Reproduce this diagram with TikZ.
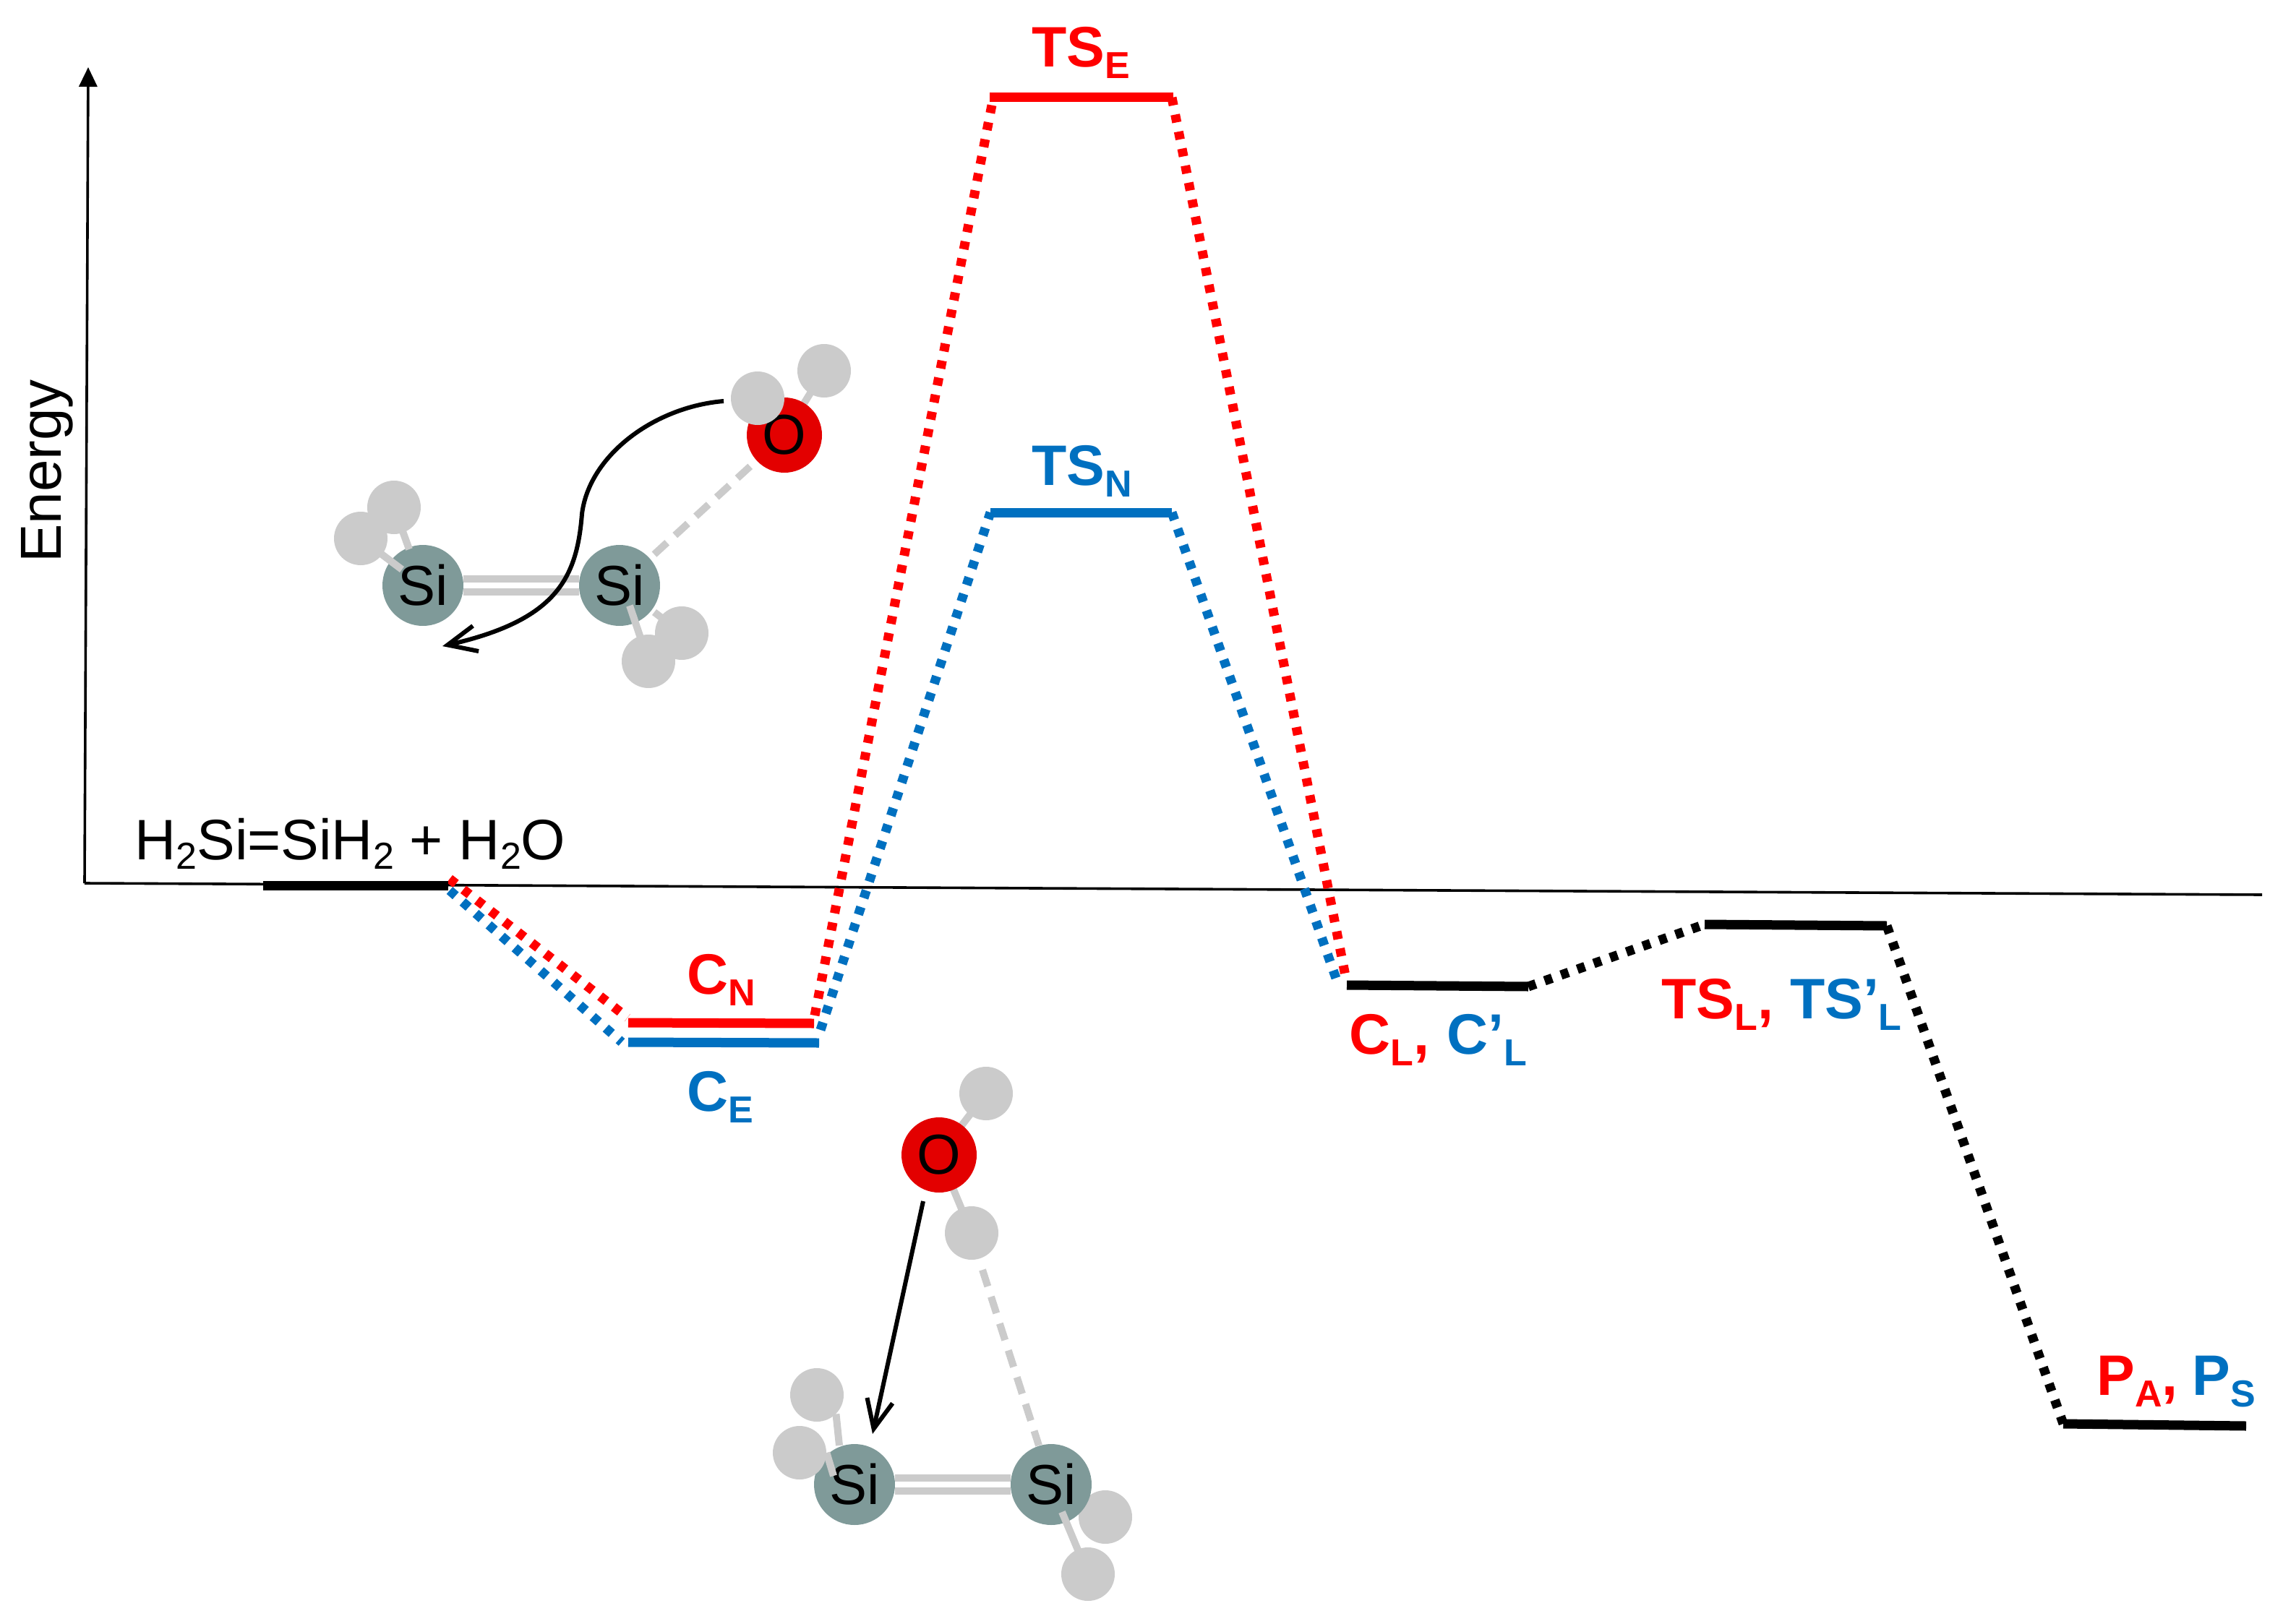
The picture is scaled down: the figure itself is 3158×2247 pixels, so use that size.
\documentclass[tikz,border=0pt]{standalone}
\usepackage{fontspec}
\setmainfont{Liberation Sans}
\usetikzlibrary{arrows.meta}
\definecolor{cred}{HTML}{FF0000}
\definecolor{cblue}{HTML}{0070C0}
\definecolor{hgray}{HTML}{CBCBCB}
\definecolor{sigreen}{HTML}{7F9A99}
\definecolor{ored}{HTML}{E30000}
\newcommand{\lab}[2]{{\fontsize{39.5}{39.5}\selectfont\bfseries #1}\raisebox{-8pt}{\fontsize{26}{26}\selectfont\bfseries #2}}
\newcommand{\lcomma}{{\fontsize{39.5}{39.5}\selectfont\bfseries,}}
\newcommand{\rsub}[1]{\raisebox{-6.5pt}{\fontsize{26}{26}\selectfont #1}}
\tikzset{
  atomtext/.style={font=\fontsize{39}{39}\selectfont,text=black,inner sep=0pt,circle},
  hatom/.style={circle,fill=hgray,minimum size=37pt,inner sep=0pt},
  siatom/.style={atomtext,fill=sigreen,minimum size=56pt},
  oatom/.style={atomtext,fill=ored,minimum size=52pt},
  bondline/.style={hgray,line width=5pt},
  hbond/.style={hgray,line width=5pt,dash pattern=on 12pt off 7.5pt},
  level/.style={line width=6.5pt,line cap=butt},
  trans/.style={line width=6.5pt,dash pattern=on 5.5pt off 6.5pt},
  axisline/.style={black,line width=1.8pt},
  curvearrow/.style={black,line width=3pt,-{Straight Barb[length=20pt,width=18pt,line width=3pt]}},
  tag/.style={anchor=base west,inner sep=0pt},
}
\begin{document}
\begin{tikzpicture}[x=.5pt,y=-.5pt]
\useasboundingbox (0,0) rectangle (3158,2247);
% axes
\coordinate (origin) at (117,1222);
\coordinate (ytop) at (122,93);
\coordinate (xend) at (3129,1238);
\draw[axisline,-{Triangle[length=13.5pt,width=12.5pt]}] (origin) -- (ytop);
\draw[axisline] (origin) -- (xend);
\node[rotate=90,anchor=base,inner sep=0pt,font=\fontsize{40}{40}\selectfont] (energy) at (84,652) {Energy};
% level ends
\coordinate (Ra) at (364,1225); \coordinate (Rb) at (620,1225);
\coordinate (CNa) at (869,1415); \coordinate (CNb) at (1126,1416);
\coordinate (CEa) at (869,1442); \coordinate (CEb) at (1133,1443);
\coordinate (TEa) at (1369,135); \coordinate (TEb) at (1623,135);
\coordinate (TNa) at (1370,709); \coordinate (TNb) at (1621,709);
\coordinate (CLa) at (1863,1363); \coordinate (CLb) at (2114,1365);
\coordinate (TLa) at (2358,1279); \coordinate (TLb) at (2610,1281);
\coordinate (PAa) at (2854,1970); \coordinate (PAb) at (3107,1973);
% transitions
\draw[trans,cred] (622,1216) -- (868,1408);
\draw[trans,cblue] (622,1232) -- (860,1442);
\draw[trans,cblue] (1135,1425) -- (TNa);
\draw[trans,cred] (1127,1405) -- (1374,135);
\draw[trans,cblue] (TNb) -- (1851,1362);
\draw[trans,cred] (1621,135) -- (1862,1355);
\draw[trans,black] (CLb) -- (TLa);
\draw[trans,black] (TLb) -- (PAa);
% levels
\draw[level,black] (Ra) -- (Rb);
\draw[level,cred] (CNa) -- (CNb);
\draw[level,cblue] (CEa) -- (CEb);
\draw[level,cred] (TEa) -- (TEb);
\draw[level,cblue] (TNa) -- (TNb);
\draw[level,black] (CLa) -- (CLb);
\draw[level,black] (TLa) -- (TLb);
\draw[level,black] (PAa) -- (PAb);
% labels
\node[tag,font=\fontsize{39.5}{39.5}\selectfont] (reactants) at (186,1189) {H\rsub{2}Si=SiH\rsub{2} + H\rsub{2}O};
\node[tag,text=cred] (tse) at (1427,93) {\lab{TS}{E}};
\node[tag,text=cblue] (tsn) at (1427,671) {\lab{TS}{N}};
\node[tag,text=cred] (cn) at (950,1375) {\lab{C}{N}};
\node[tag,text=cblue] (ce) at (950,1537) {\lab{C}{E}};
\node[tag] (cl) at (1866,1458) {\textcolor{cred}{\lab{C}{L}\lcomma}\hspace{12pt}\textcolor{cblue}{\lab{C’}{L}}};
\node[tag] (tsl) at (2298,1409) {\textcolor{cred}{\lab{TS}{L}\lcomma}\hspace{11.5pt}\textcolor{cblue}{\lab{TS’}{L}}};
\node[tag] (pa) at (2900,1930) {\textcolor{cred}{\lab{P}{A}\lcomma}\hspace{10pt}\textcolor{cblue}{\lab{P}{S}}};
% upper molecule
\node[siatom] (si1a) at (585,810) {Si};
\node[siatom] (si1b) at (857,810) {Si};
\draw[bondline] ([yshift=4.7pt]si1a.east) -- ([yshift=4.7pt]si1b.west);
\draw[bondline] ([yshift=-4.7pt]si1a.east) -- ([yshift=-4.7pt]si1b.west);
\coordinate (b1a) at (566,760);
\coordinate (b1b) at (556,788);
\coordinate (b1c) at (905,847);
\coordinate (b1d) at (871,838);
\draw[bondline] (b1a) -- (545,702);
\draw[bondline] (b1b) -- (499,745);
\draw[bondline] (b1c) -- (943,876);
\draw[bondline] (b1d) -- (897,915);
\node[hatom] (h1a) at (545,702) {};
\node[hatom] (h1b) at (499,745) {};
\node[hatom] (h1c) at (943,876) {};
\node[hatom] (h1d) at (897,915) {};
\draw[bondline] (1140,513) -- (1085,602);
\node[hatom] (h1e) at (1140,513) {};
\node[oatom] (o1) at (1085,602) {\raisebox{-5pt}{O}};
\node[hatom] (h1f) at (1048,551) {};
\coordinate (hb1a) at (905,767);
\coordinate (hb1b) at (1038,645);
\draw[hbond] (hb1a) -- (hb1b);
\coordinate (arrow1s) at (1001,555);
\coordinate (arrow1m) at (805,711);
\coordinate (arrow1e) at (612,894);
\draw[curvearrow] (arrow1s) .. controls (905,563) and (815,630) .. (arrow1m)
   .. controls (798,800) and (770,858) .. (arrow1e);
% lower molecule
\draw[bondline] (1364,1513) -- (1299,1598);
\draw[bondline] (1344,1706) -- (1299,1598);
\node[hatom] (h2a) at (1364,1513) {};
\node[hatom] (h2b) at (1344,1706) {};
\node[oatom] (o2) at (1299,1598) {O};
\node[hatom] (h2e) at (1529,2099) {};
\node[siatom] (si2a) at (1182,2054) {Si};
\node[siatom] (si2b) at (1454,2054) {Si};
\node[hatom] (h2c) at (1130,1930) {};
\node[hatom] (h2d) at (1106,2010) {};
\coordinate (b2a) at (1161,2000);
\coordinate (b2b) at (1153,2042);
\coordinate (b2c) at (1469,2092);
\draw[bondline] ([yshift=4.5pt]si2a.east) -- ([yshift=4.5pt]si2b.west);
\draw[bondline] ([yshift=-4.5pt]si2a.east) -- ([yshift=-4.5pt]si2b.west);
\draw[bondline] (b2a) -- (h2c.south east);
\draw[bondline] (b2b) -- (h2d.east);
\draw[bondline] (b2c) -- (1505,2178);
\node[hatom] (h2f) at (1505,2178) {};
\coordinate (hb2a) at (1359,1757);
\coordinate (hb2b) at (1437,2000);
\draw[hbond] (hb2a) -- (hb2b);
\coordinate (arrow2s) at (1277,1662);
\coordinate (arrow2e) at (1207,1984);
\draw[curvearrow] (arrow2s) -- (arrow2e);
\end{tikzpicture}
\end{document}
